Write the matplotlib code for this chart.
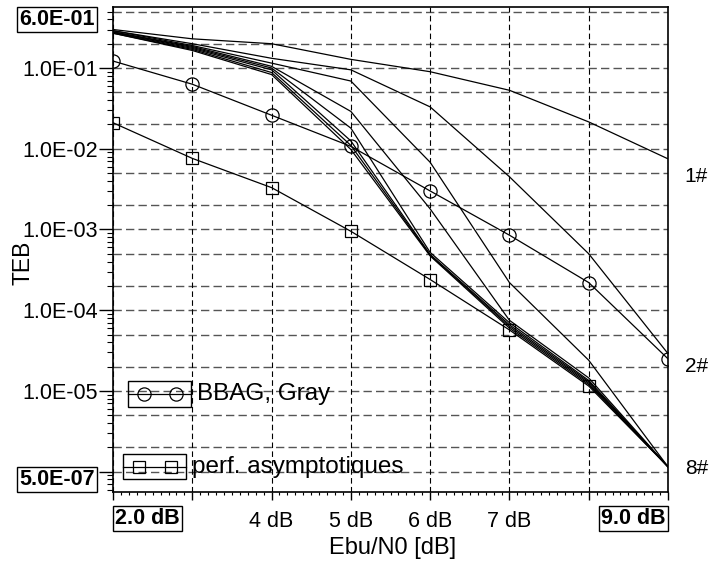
#%%
import numpy as np
import matplotlib.pyplot as plt
from matplotlib.ticker import FixedLocator, LogLocator, MultipleLocator, FuncFormatter, NullFormatter
from matplotlib.patches import Rectangle
from matplotlib.lines import Line2D

plt.rcParams['font.family'] = [ 'Liberation Sans', 'DejaVu Sans' ]

# Eb/N0 points [dB]
ebn0 = [ 2, 3, 4, 5, 6, 7, 8, 9 ]

# TEB per iteration (1# .. 8#)
teb_it1 = [ 0.30, 0.23, 0.20, 0.128, 0.090, 0.053, 0.0215, 0.0075 ]
teb_it2 = [ 0.29, 0.20, 0.132, 0.095, 0.033, 4.5e-3, 5.0e-4, 2.9e-5 ]
teb_it3 = [ 0.29, 0.19, 0.115, 0.069, 6.8e-3, 2.2e-4, 2.4e-5, 1.15e-6 ]
teb_it4 = [ 0.28, 0.185, 0.105, 0.029, 1.8e-3, 7.5e-5, 1.45e-5, 1.15e-6 ]
teb_it5 = [ 0.28, 0.18, 0.10, 0.018, 5.2e-4, 7.0e-5, 1.35e-5, 1.15e-6 ]
teb_it6 = [ 0.275, 0.175, 0.095, 0.0125, 4.9e-4, 6.6e-5, 1.3e-5, 1.15e-6 ]
teb_it7 = [ 0.27, 0.17, 0.088, 0.011, 4.8e-4, 6.3e-5, 1.25e-5, 1.15e-6 ]
teb_it8 = [ 0.27, 0.165, 0.083, 0.0098, 4.7e-4, 6.0e-5, 1.2e-5, 1.15e-6 ]

# reference curves
teb_bbag = [ 0.122, 0.063, 0.026, 0.0107, 3.0e-3, 8.5e-4, 2.2e-4, 2.5e-5 ]
teb_asym = [ 0.021, 7.6e-3, 3.3e-3, 9.5e-4, 2.4e-4, 5.7e-5, 1.15e-5, 1.15e-6 ]

iter_labels = { '1#': teb_it1, '2#': teb_it2, '8#': teb_it8 }

#%%
fig = plt.figure( figsize = ( 7.1, 5.63 ), dpi = 100 )
ax = fig.add_axes( [ 113 / 710, 71 / 563, 555 / 710, 485 / 563 ] )

for teb in [ teb_it1, teb_it2, teb_it3, teb_it4, teb_it5, teb_it6, teb_it7, teb_it8 ]:
    ax.plot( ebn0, teb, color = 'black', lw = 0.9, zorder = 3 )

ax.plot( ebn0, teb_bbag, color = 'black', lw = 0.9, marker = 'o',
         ms = 9.5, mfc = 'none', mec = 'black', mew = 0.9, zorder = 3 )
ax.plot( ebn0, teb_asym, color = 'black', lw = 0.9, marker = 's',
         ms = 8, mfc = 'none', mec = 'black', mew = 0.9,
         markevery = slice( 0, 7 ), zorder = 3 )

ax.set_yscale( 'log' )
ax.set_xlim( 2, 9 )
ax.set_ylim( 5.6e-7, 0.57 )

# grid: vertical every dB, horizontal at 1, 2, 5 per decade
ax.xaxis.set_major_locator( FixedLocator( ebn0 ) )
ax.grid( axis = 'x', which = 'major', color = 'black', lw = 0.8, ls = ( 0, ( 5, 3 ) ) )
grid_y = [ m * 10.0 ** e for e in range( -7, 0 ) for m in ( 1, 2, 5 ) ]
for gv in grid_y:
    if 5.6e-7 < gv < 0.57:
        ax.axhline( gv, color = '#555555', lw = 1.0, ls = ( 0, ( 6, 3 ) ), zorder = 1 )

ax.xaxis.set_major_formatter( FuncFormatter(
    lambda v, p: '%d dB' % v if 4 <= v <= 7 else '' ) )
ax.xaxis.set_minor_locator( MultipleLocator( 0.1 ) )

ax.yaxis.set_major_locator( LogLocator( base = 10, subs = ( 1.0, ) ) )
ax.yaxis.set_minor_locator( LogLocator( base = 10, subs = np.arange( 2, 10 ) ) )
ax.yaxis.set_minor_formatter( NullFormatter() )
ax.yaxis.set_major_formatter( FuncFormatter(
    lambda v, p: '%.1E' % v if v >= 5e-6 else '' ) )

ax.tick_params( axis = 'y', which = 'major', direction = 'out', length = 10, width = 1,
                pad = 1, labelsize = 15.5 )
ax.tick_params( axis = 'y', which = 'minor', direction = 'out', length = 4, width = 0.8 )
ax.tick_params( axis = 'x', which = 'major', direction = 'out', length = 6, width = 1,
                pad = 8, labelsize = 15.5 )
ax.tick_params( axis = 'x', which = 'minor', direction = 'out', length = 2, width = 0.8 )

for sp in ax.spines.values():
    sp.set_linewidth( 1.2 )

# boxed axis limits
box = dict( boxstyle = 'square,pad=0.1', fc = 'white', ec = 'black', lw = 1 )
ax.annotate( '6.0E-01', xy = ( 0, 1 ), xycoords = 'axes fraction', xytext = ( -13, -1.6 ),
             textcoords = 'offset points', ha = 'right', va = 'top',
             fontsize = 15.5, fontweight = 'bold', bbox = box, annotation_clip = False )
ax.annotate( '5.0E-07', xy = ( 0, 0 ), xycoords = 'axes fraction', xytext = ( -13, 1.6 ),
             textcoords = 'offset points', ha = 'right', va = 'bottom',
             fontsize = 15.5, fontweight = 'bold', bbox = box, annotation_clip = False )
ax.annotate( '2.0 dB', xy = ( 0, 0 ), xycoords = 'axes fraction', xytext = ( 1.6, -11.6 ),
             textcoords = 'offset points', ha = 'left', va = 'top',
             fontsize = 15.5, fontweight = 'bold', bbox = box, annotation_clip = False )
ax.annotate( '9.0 dB', xy = ( 1, 0 ), xycoords = 'axes fraction', xytext = ( -1.6, -11.6 ),
             textcoords = 'offset points', ha = 'right', va = 'top',
             fontsize = 15.5, fontweight = 'bold', bbox = box, annotation_clip = False )

# iteration labels on the right
offsets = { '1#': -13, '2#': -9, '8#': -1 }
for lab, teb in iter_labels.items():
    ax.annotate( lab, xy = ( ebn0[-1], teb[-1] ), xytext = ( 12, offsets[lab] ),
                 textcoords = 'offset points', ha = 'left', va = 'center',
                 fontsize = 15, annotation_clip = False )

ax.text( -0.163, 0.472, 'TEB', transform = ax.transAxes, rotation = 90,
         ha = 'center', va = 'center', fontsize = 16.5 )
ax.text( 0.503, -0.115, 'Ebu/N0 [dB]', transform = ax.transAxes,
         ha = 'center', va = 'center', fontsize = 17 )

# hand-made legend entries with framed handles
def legend_entry( x0, x1, y0, y1, marker, ms, mx, label ):
    ax.add_patch( Rectangle( ( x0, y0 ), x1 - x0, y1 - y0, transform = ax.transAxes,
                             fill = False, ec = 'black', lw = 1, zorder = 4 ) )
    ym = 0.5 * ( y0 + y1 )
    ax.add_line( Line2D( [ x0, x1 ], [ ym, ym ], transform = ax.transAxes,
                         color = 'black', lw = 0.9, zorder = 4 ) )
    ax.add_line( Line2D( mx, [ ym, ym ], transform = ax.transAxes, ls = 'none',
                         marker = marker, ms = ms, mfc = 'none', mec = 'black',
                         mew = 0.9, zorder = 4 ) )
    ax.text( x1 + 0.011, ym, label, transform = ax.transAxes, ha = 'left',
             va = 'center', fontsize = 17.5, zorder = 4 )

legend_entry( 0.027, 0.1405, 0.175, 0.229, 'o', 9.5, [ 0.0559, 0.1135 ], 'BBAG, Gray' )
legend_entry( 0.018, 0.1315, 0.027, 0.078, 's', 8, [ 0.0468, 0.1045 ], 'perf. asymptotiques' )

fig.savefig( 'out.png', dpi = 100 )
